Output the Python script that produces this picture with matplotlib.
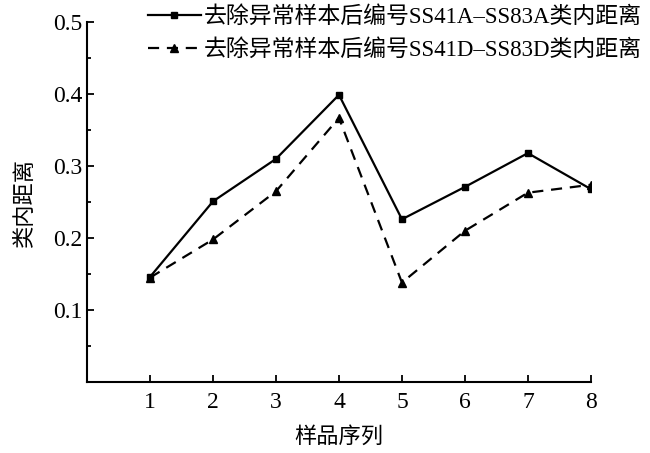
import matplotlib.pyplot as plt
from matplotlib.ticker import MultipleLocator

plt.rcParams['font.family'] = ['Liberation Serif', 'Noto Sans CJK SC']
plt.rcParams['axes.unicode_minus'] = False

# ── Data ────────────────────────────────────────────────────────────────────
samples = [1, 2, 3, 4, 5, 6, 7, 8]
dist_a = [0.146, 0.251, 0.310, 0.399, 0.226, 0.271, 0.318, 0.268]
dist_d = [0.145, 0.198, 0.265, 0.367, 0.138, 0.210, 0.263, 0.274]
label_a = '去除异常样本后编号SS41A–SS83A类内距离'
label_d = '去除异常样本后编号SS41D–SS83D类内距离'

fig = plt.figure(figsize=(6.5, 4.53), dpi=100)
ax = fig.add_axes([0.134, 0.157, 0.775, 0.794])

ax.plot(samples, dist_a, color='black', lw=1.6, marker='s', ms=5, label=label_a)
ax.plot(samples, dist_d, color='black', lw=1.6, ls=(0, (5, 3.5)), marker='^', ms=5.5,
        label=label_d)

ax.set_xlim(0, 8)
ax.set_ylim(0, 0.5)
ax.set_xticks(samples)
ax.set_yticks([0.1, 0.2, 0.3, 0.4, 0.5])
ax.yaxis.set_minor_locator(MultipleLocator(0.05))
ax.tick_params(direction='in', labelsize=17, width=1.3, length=5)
ax.tick_params(axis='x', pad=7)
ax.tick_params(which='minor', direction='in', width=1.3, length=3)

for s in ['top', 'right']:
    ax.spines[s].set_visible(False)
for s in ['left', 'bottom']:
    ax.spines[s].set_linewidth(1.5)

ax.set_xlabel('样品序列', fontsize=16, labelpad=10)
ax.set_ylabel('类内距离', fontsize=16, labelpad=12)

ax.legend(loc='upper right', bbox_to_anchor=(1.12, 1.07), frameon=False,
          fontsize=16.5, handlelength=2.3, handletextpad=0.15, labelspacing=0.5,
          borderaxespad=0)

fig.savefig('out.png', dpi=100)
